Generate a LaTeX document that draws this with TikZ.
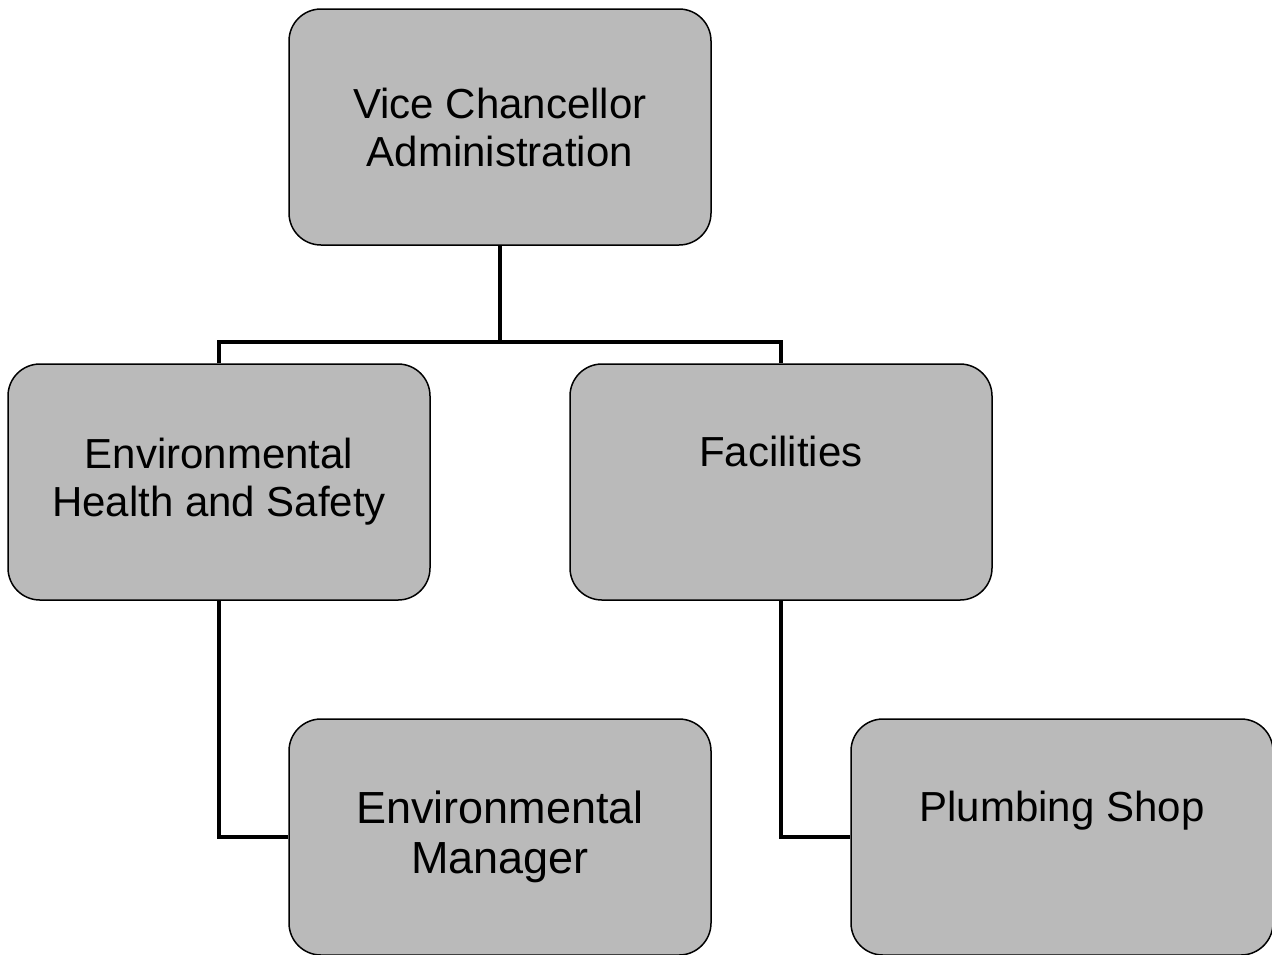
\documentclass[tikz,border=0pt]{standalone}
\usepackage{fontspec}
\setmainfont{Liberation Sans}
\usetikzlibrary{positioning}

\begin{document}
\begin{tikzpicture}[node distance=177.5pt and 140.5pt,on grid,
  unit/.style={draw=black,line width=0.75pt,fill=black!27,rounded corners=16pt,
    minimum width=211pt,minimum height=118pt,align=center,
    font=\fontsize{21}{24}\selectfont}]
  \useasboundingbox (0,0) rectangle (636pt,-477pt);
  \node[unit]          (VC)  at (250pt,-63.5pt)     {Vice Chancellor\\Administration};
  \node[unit]          (EHS) [below left =of VC]    {Environmental\\Health and Safety};
  \node[unit]          (FAC) [below right =of VC]   {Facilities\\\strut};
  \node[unit,font=\fontsize{22.5}{25}\selectfont]
                       (EM)  [below right =of EHS]  {Environmental\\Manager};
  \node[unit]          (PS)  [below right =of FAC]  {Plumbing Shop\\\strut};
  \coordinate (bus) at ([yshift=10.5pt]FAC.north);
\tikzset{link/.style={line width=2pt,to path={|- (\tikztotarget)}}}
\path (EHS.south) edge [link] (EM.west)
      (FAC.south) edge [link] (PS.west);
\tikzset{link/.style={line width=2pt,to path={-- (\tikztostart |- bus) -| (\tikztotarget)}}}
\path (EHS.north) edge [link] (FAC.north);
\path (VC.south)  edge [line width=2pt] (VC.south |- bus);
\end{tikzpicture}
\end{document}
